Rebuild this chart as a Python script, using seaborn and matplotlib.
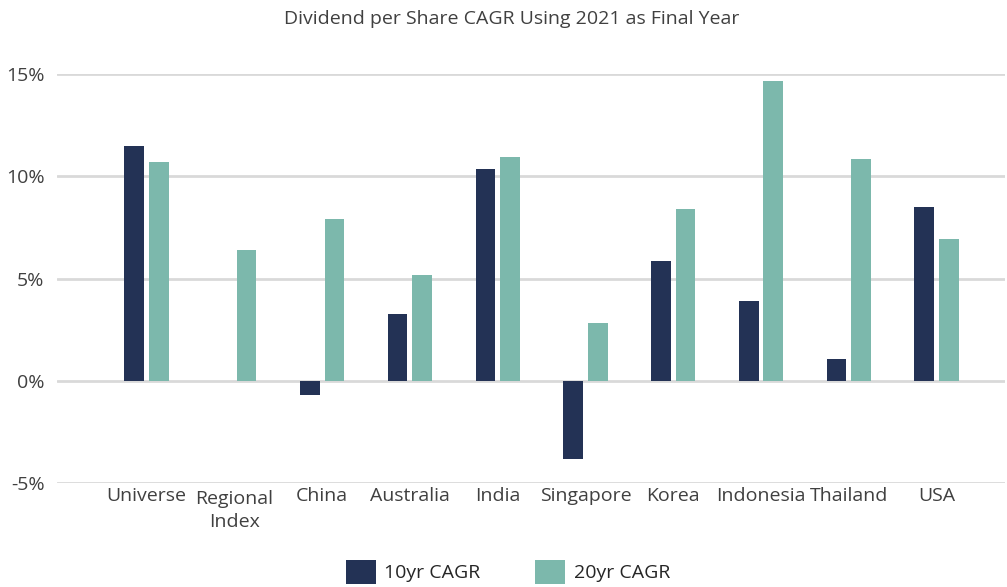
import numpy as np
import pandas as pd
import matplotlib
matplotlib.use("Agg")
import matplotlib.pyplot as plt
import seaborn as sns
from matplotlib.patches import Patch

categories = ["Universe", "Regional\nIndex", "China", "Australia", "India",
              "Singapore", "Korea", "Indonesia", "Thailand", "USA"]
cagr_10yr = [11.5, np.nan, -0.7, 3.25, 10.35, -3.85, 5.85, 3.9, 1.05, 8.5]
cagr_20yr = [10.7, 6.4, 7.9, 5.15, 10.95, 2.8, 8.4, 14.65, 10.85, 6.95]
series_names = ["10yr CAGR", "20yr CAGR"]
colors = ["#233255", "#7cb8ac"]
yticks = [-5, 0, 5, 10, 15]

sns.set_theme(style="white")
plt.rcParams["font.family"] = ["Open Sans", "DejaVu Sans"]
text_color = "#404040"

df = pd.DataFrame({
    "cat": categories * 2,
    "series": [series_names[0]] * len(categories) + [series_names[1]] * len(categories),
    "val": cagr_10yr + cagr_20yr,
})

fig = plt.figure(figsize=(10.07, 5.87), dpi=100)
ax = fig.add_axes([57 / 1007, (587 - 483) / 587, (1005 - 57) / 1007, (483 - 74) / 587])

sns.barplot(data=df, x="cat", y="val", hue="series", order=categories,
            hue_order=series_names, palette=colors, width=0.56, gap=0.2,
            saturation=1, linewidth=0, legend=False, ax=ax, zorder=3)

ax.set_ylim(-5, 15)
ax.set_xlim(-1.02, 9.78)
ax.set_yticks(yticks)
ax.set_yticklabels([f"{v}%" for v in yticks])
ax.yaxis.grid(True, color="#d9d9d9", linewidth=2, zorder=0)
ax.xaxis.grid(False)
for s in ax.spines.values():
    s.set_visible(False)
ax.tick_params(axis="y", length=0, pad=9, labelsize=14, labelcolor=text_color)
ax.tick_params(axis="x", length=0, pad=3, labelsize=14, labelcolor=text_color)
for lbl in ax.get_xticklabels():
    if "\n" in lbl.get_text():
        lbl.set_linespacing(1.35)
        lbl.set_y(-0.008)
ax.set_xlabel("")
ax.set_ylabel("")
ax.set_axisbelow(True)

fig.text(512 / 1007, 1 - 19 / 587, "Dividend per Share CAGR Using 2021 as Final Year",
         ha="center", va="center", fontsize=14, color=text_color)

handles = [Patch(facecolor=c, edgecolor="none") for c in colors]
fig.legend(handles, series_names, loc="center", bbox_to_anchor=(508 / 1007, 1 - 572 / 587),
           ncol=2, frameon=False, fontsize=14, handlelength=1.55, handleheight=1.55,
           handletextpad=0.45, columnspacing=2.8, labelcolor="#262626")

fig.savefig("out.png", dpi=100, facecolor="white")
